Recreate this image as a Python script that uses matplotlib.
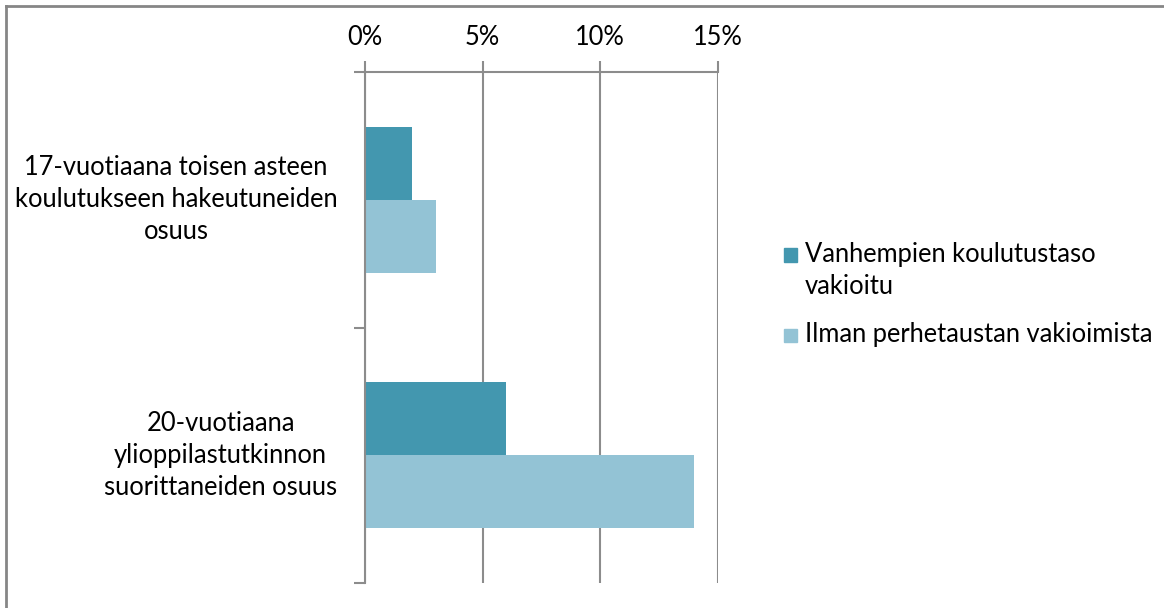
import matplotlib
matplotlib.use('Agg')
import matplotlib.pyplot as plt
from matplotlib.lines import Line2D
from matplotlib.patches import Rectangle
from matplotlib.ticker import FuncFormatter

plt.rcParams['font.family'] = ['Lato', 'DejaVu Sans']

# data
categories = ['17-vuotiaana toisen asteen\nkoulutukseen hakeutuneiden\nosuus',
              '20-vuotiaana\nylioppilastutkinnon\nsuorittaneiden osuus']
series_names = ['Vanhempien koulutustaso\nvakioitu', 'Ilman perhetaustan vakioimista']
adjusted = [2, 6]      # %
unadjusted = [3, 14]   # %
xticks = [0, 5, 10, 15]

DARK = '#4397AF'
LIGHT = '#93C3D5'
GRID = '#8C8C8C'
FS = 18.4
W, H = 1164, 608

fig = plt.figure(figsize=(11.64, 6.08), dpi=100)
ax = fig.add_axes([365/W, 1-583/H, (718-365)/W, (583-72)/H])

h = 0.286
ypos = list(range(len(categories)))
ax.barh([y - h/2 for y in ypos], adjusted, height=h, color=DARK)
ax.barh([y + h/2 for y in ypos], unadjusted, height=h, color=LIGHT)

ax.set_xlim(0, 15)
ax.set_ylim(1.5, -0.5)
ax.set_xticks(xticks)
ax.xaxis.set_major_formatter(FuncFormatter(lambda v, _: f'{v:.0f}%'))
ax.xaxis.tick_top()
ax.tick_params(axis='x', direction='out', length=8, width=1.5, color=GRID,
               labelsize=FS, pad=8)
ax.grid(axis='x', color=GRID, lw=1.5)
ax.set_axisbelow(True)

ax.set_yticks(ypos)
ax.set_yticklabels(categories, multialignment='center', va='center')
ax.set_yticks([-0.5, 0.5, 1.5], minor=True)
ax.tick_params(axis='y', which='major', length=0, labelsize=FS, pad=20)
ax.tick_params(axis='y', which='minor', direction='out', length=8, width=1.5, color=GRID)
for lab in ax.get_yticklabels():
    lab.set_linespacing(1.36)

for s in ['right', 'bottom']:
    ax.spines[s].set_visible(False)
for s in ['top', 'left']:
    ax.spines[s].set_color(GRID)
    ax.spines[s].set_linewidth(1.5)

# legend by hand: square lines up with the first text line, as in the original
leg_y = [255, 335]   # pixel centre of first text line
for name, col, yy in zip(series_names, [DARK, LIGHT], leg_y):
    fig.add_artist(Rectangle((784/W, 1-(yy+6.5)/H), 13/W, 13/H, color=col,
                             transform=fig.transFigure))
    fig.text(805/W, 1-(yy-13)/H, name, fontsize=FS, ha='left', va='top',
             linespacing=1.36)

# outer chart border (only top and left are inside the crop)
fig.add_artist(Line2D([6/W, 1.01], [1-6/H, 1-6/H], color='#868686', lw=2,
                      transform=fig.transFigure))
fig.add_artist(Line2D([6/W, 6/W], [1-6/H, -0.01], color='#868686', lw=2,
                      transform=fig.transFigure))

fig.savefig('out.png', dpi=100)
